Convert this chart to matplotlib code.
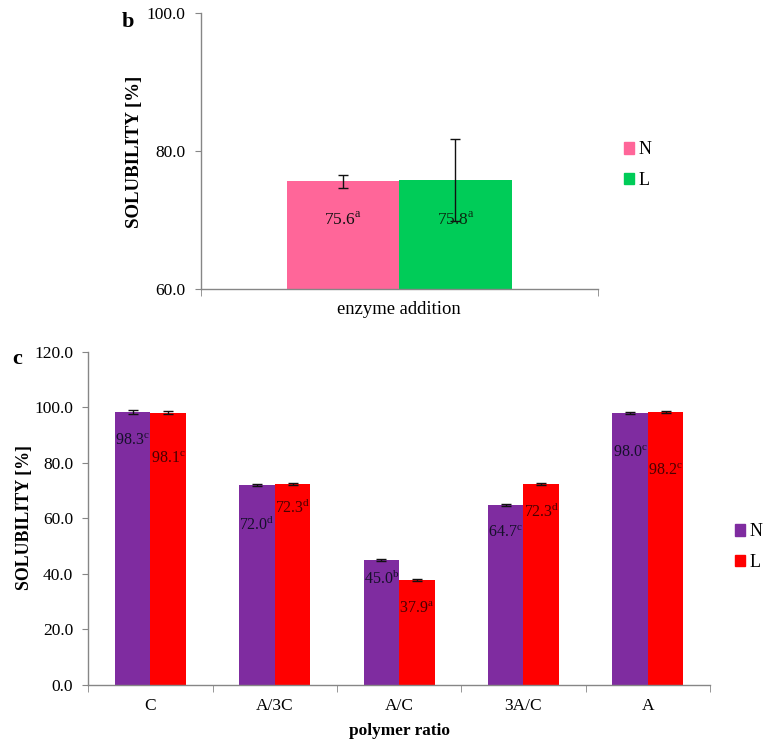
import numpy as np
import matplotlib
matplotlib.use("Agg")
import matplotlib.pyplot as plt
from matplotlib.patches import Patch

# datos ----------------------------------------------------------------

series = ["N", "L"]

# panel b: adición de enzima
enz_cats   = ["enzyme addition"]
enz_vals   = {"N": [75.6], "L": [75.8]}
enz_err    = {"N": [1.0], "L": [5.9]}
enz_letter = {"N": ["a"], "L": ["a"]}

# panel c: proporción de polímeros
pol_cats   = ["C", "A/3C", "A/C", "3A/C", "A"]
pol_vals   = {"N": [98.3, 72.0, 45.0, 64.7, 98.0],
              "L": [98.1, 72.3, 37.9, 72.3, 98.2]}
pol_err    = {"N": [0.7, 0.4, 0.4, 0.4, 0.4],
              "L": [0.4, 0.4, 0.4, 0.4, 0.4]}
pol_letter = {"N": ["c", "d", "b", "c", "c"],
              "L": ["c", "d", "a", "d", "c"]}

# estilo ---------------------------------------------------------------

plt.rcParams["font.family"] = "Liberation Serif"
plt.rcParams["mathtext.fontset"] = "custom"
plt.rcParams["mathtext.rm"] = "Liberation Serif"

SPINE = "#868686"
COL_B = {"N": "#FF6699", "L": "#00CC58"}
COL_C = {"N": "#7F2CA0", "L": "#FF0000"}
TXT_C = {"N": "#15102a", "L": "#4a0000"}

W, H = 771, 751
fig = plt.figure(figsize=(W / 100, H / 100), dpi=100)


def px_axes(x0, y0, x1, y1):
    return fig.add_axes([x0 / W, 1 - y1 / H, (x1 - x0) / W, (y1 - y0) / H])


def style_axes(ax, n_cats, xfs):
    for s in ("top", "right"):
        ax.spines[s].set_visible(False)
    for s in ("left", "bottom"):
        ax.spines[s].set_color(SPINE)
        ax.spines[s].set_linewidth(1.0)
    ax.set_xlim(-0.5, n_cats - 0.5)
    ax.set_xticks(range(n_cats))
    ax.set_xticks(np.arange(n_cats + 1) - 0.5, minor=True)
    ax.tick_params(axis="x", which="major", length=0, pad=9, labelsize=xfs)
    ax.tick_params(axis="x", which="minor", length=5, color=SPINE, direction="out")
    ax.tick_params(axis="y", length=4, color=SPINE, direction="out", pad=7,
                   labelsize=12.5)
    ax.yaxis.set_major_formatter(matplotlib.ticker.FormatStrFormatter("%.1f"))


def draw_bars(ax, cats, vals, errs, letters, colors, txtcol, drops, group=0.57,
              fs=11.5):
    x = np.arange(len(cats))
    w = group / len(series)
    for k, s in enumerate(series):
        xs = x - group / 2 + w * (k + 0.5)
        ax.bar(xs, vals[s], width=w, color=colors[s], zorder=2)
        ax.errorbar(xs, vals[s], yerr=errs[s], fmt="none", ecolor="#111111",
                    elinewidth=1.0, capsize=3.5, capthick=1.0, zorder=3)
        for i, (xi, v) in enumerate(zip(xs, vals[s])):
            ax.annotate(f"{v:.1f}$^{{\\mathrm{{{letters[s][i]}}}}}$", (xi, v),
                        xytext=(0, -drops[s][i]), textcoords="offset pixels",
                        ha="center", va="center", fontsize=fs, color=txtcol[s],
                        zorder=4)
    ax.set_xticklabels(cats)


def add_legend(ax, colors, x, y):
    ax.legend(handles=[Patch(color=colors[s], label=s) for s in series],
              loc="center left", bbox_to_anchor=(x / W, 1 - y / H),
              bbox_transform=fig.transFigure, frameon=False, fontsize=13,
              handlelength=0.6, handleheight=0.6, handletextpad=0.2,
              labelspacing=0.75, borderpad=0.2, borderaxespad=0)


# panel b --------------------------------------------------------------

ax_b = px_axes(200.7, 13.3, 597.7, 289)
style_axes(ax_b, len(enz_cats), 13.4)
ax_b.set_ylim(60, 100)
ax_b.set_yticks([60, 80, 100])
draw_bars(ax_b, enz_cats, enz_vals, enz_err, enz_letter, COL_B,
          {"N": "#111111", "L": "#0a2a10"},
          {"N": [38], "L": [40]}, group=0.567, fs=12.5)
fig.text(135 / W, 1 - 152 / H, "SOLUBILITY [%]", rotation=90, fontsize=13.6,
         fontweight="bold", ha="center", va="center")
fig.text(128 / W, 1 - 22 / H, "b", fontsize=16, fontweight="bold",
         ha="center", va="center")
add_legend(ax_b, COL_B, 620, 165)

# panel c --------------------------------------------------------------

ax_c = px_axes(88.3, 351.7, 710, 685)
style_axes(ax_c, len(pol_cats), 12.5)
ax_c.set_ylim(0, 120)
ax_c.set_yticks(np.arange(0, 121, 20))
draw_bars(ax_c, pol_cats, pol_vals, pol_err, pol_letter, COL_C, TXT_C,
          {"N": [29, 40, 19, 28, 40], "L": [46, 23, 29, 27, 59]})
ax_c.set_xlabel("polymer ratio", fontsize=12.4, fontweight="bold", labelpad=7)
fig.text(25 / W, 1 - 518 / H, "SOLUBILITY [%]", rotation=90, fontsize=12.9,
         fontweight="bold", ha="center", va="center")
fig.text(17.5 / W, 1 - 359 / H, "c", fontsize=16, fontweight="bold",
         ha="center", va="center")
add_legend(ax_c, COL_C, 731, 547)

fig.savefig("out.png", dpi=100)
